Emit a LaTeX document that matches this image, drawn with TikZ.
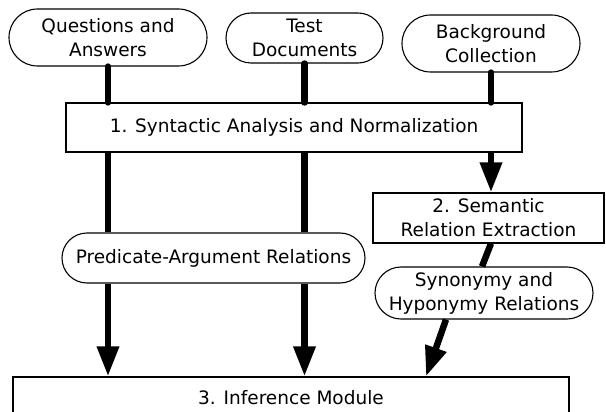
\documentclass[tikz,border=0pt]{standalone}
\usepackage{fontspec}
\setmainfont{DejaVu Sans}
\usetikzlibrary{shapes.misc, arrows.meta}

\begin{document}
\begin{tikzpicture}[x=1pt, y=-1pt, font=\fontsize{18.5}{24}\selectfont, align=center,
        >={Triangle[length=30pt, width=21pt]},
        oval/.style={draw, rounded rectangle, line width=1.1pt, inner sep=0pt},
        stage/.style={draw, rectangle, line width=1.1pt, inner sep=0pt},
        flow/.style={line width=6.5pt}]
        \useasboundingbox (0,0) rectangle (606,412);

        % Sources
        \node[oval, minimum width=198pt, minimum height=57pt] (qa) at (108,37.5) {Questions and\\Answers};
        \node[oval, minimum width=157pt, minimum height=50pt] (test) at (304.5,38) {Test\\Documents};
        \node[oval, minimum width=178pt, minimum height=57pt] (bg) at (491,43.5) {Background\\Collection};

        % Stages
        \node[stage, minimum width=456pt, minimum height=49pt] (stage1) at (294,127.5) {1. Syntactic Analysis and Normalization};
        \node[stage, minimum width=231pt, minimum height=50pt] (stage2) at (488.5,218) {2. Semantic\\Relation Extraction};
        \node[stage, minimum width=556pt, minimum height=42pt] (stage3) at (291,398) {3. Inference Module};

        % Intermediate relations
        \node[oval, minimum width=303pt, minimum height=50pt] (par) at (213.5,258) {Predicate-Argument Relations};
        \node[oval, minimum width=218pt, minimum height=52pt] (syn) at (484,293) {Synonymy and\\Hyponymy Relations};

        % Edges
        \foreach \src in {qa, test} {
            \draw[flow, line cap=round] (\src.south) -- (\src.south |- stage1.north);
            \draw[flow] (stage1.south -| \src.south) -- (par.north -| \src.south);
            \draw[flow, ->] (par.south -| \src.south) -- (stage3.north -| \src.south);
        }
        \draw[flow, line cap=round] (bg.south) -- (bg.south |- stage1.north);
        \draw[flow, ->] (stage1.south -| bg.south) -- (stage2.north -| bg.south);
        \draw[flow] (stage2.south -| bg.south) -- ([xshift=-2pt]syn.north);
        \draw[flow, ->] ([xshift=-38pt]syn.south) -- ([xshift=135pt]stage3.north);
    \end{tikzpicture}
\end{document}
